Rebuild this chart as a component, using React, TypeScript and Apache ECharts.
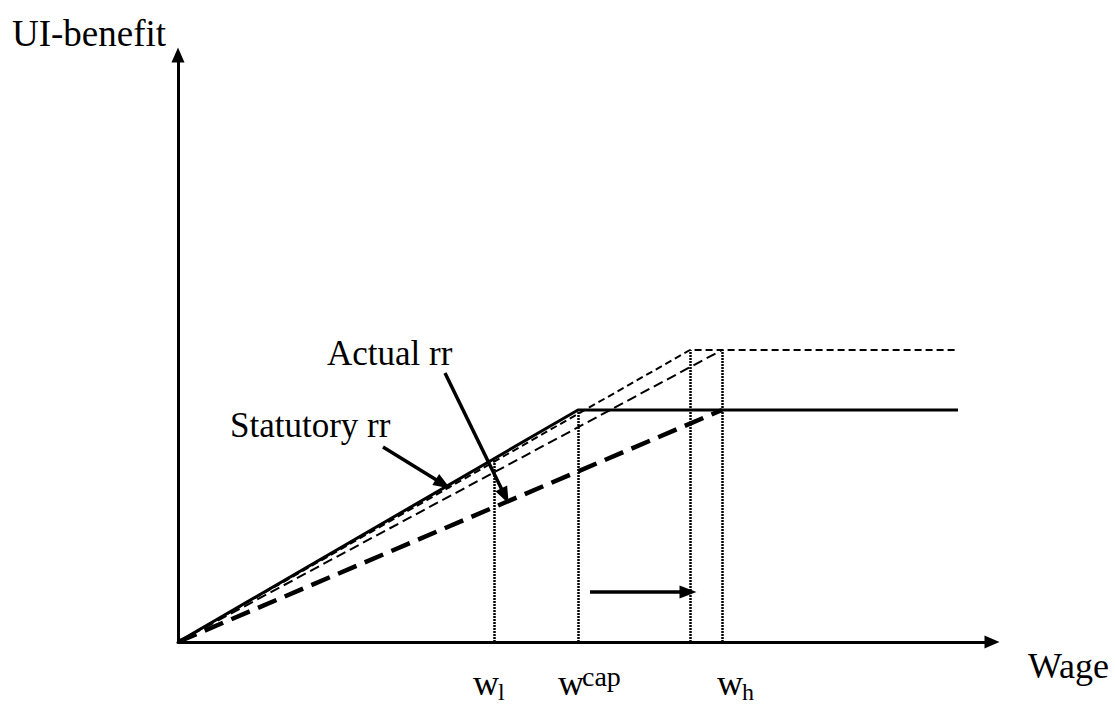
import React, { useEffect, useRef } from "react";
import * as echarts from "echarts";

// Conceptual diagram data (wage on x, UI-benefit on y)
const statutoryRR: [number, number][] = [[0, 0], [100, 58], [195, 58]];
const newStatutoryRR: [number, number][] = [[0, 0], [128, 73], [195, 73]];
const newActualRR: [number, number][] = [[0, 0], [136, 73]];
const actualRR: [number, number][] = [[0, 0], [136, 58]];

// vertical reference lines: [wage, height]
const guides: [number, number][] = [[79, 46], [100, 58], [128, 73], [136, 73]];

// annotation arrows: [from, to]
const arrows: [[number, number], [number, number]][] = [
  [[51.25, 48.75], [66.25, 39.5]],
  [[66.75, 67.25], [81.75, 36.5]],
  [[103, 12.5], [127.5, 12.5]],
];

const FONT = "Liberation Serif";

export default function App() {
  const ref = useRef<HTMLDivElement>(null);
  useEffect(() => {
    if (!ref.current) return;
    const chart = echarts.init(ref.current, undefined, { renderer: "svg" });
    const txt = (text: string, x: number, y: number, size = 36) => ({
      type: "text",
      x,
      y,
      silent: true,
      style: {
        text,
        fill: "#000",
        fontFamily: FONT,
        fontSize: size,
        verticalAlign: "middle",
        align: "left",
      },
    });
    chart.setOption({
      animation: false,
      backgroundColor: "#fff",
      textStyle: { fontFamily: FONT },
      grid: { left: 178, top: 55, width: 814, height: 587 },
      xAxis: {
        type: "value",
        min: 0,
        max: 203.5,
        axisLine: {
          show: true,
          onZero: false,
          symbol: ["none", "triangle"],
          symbolSize: [13, 15],
          lineStyle: { color: "#000", width: 3 },
        },
        axisTick: { show: false },
        axisLabel: { show: false },
        splitLine: { show: false },
      },
      yAxis: {
        type: "value",
        min: 0,
        max: 146.75,
        axisLine: {
          show: true,
          onZero: false,
          symbol: ["none", "triangle"],
          symbolSize: [13, 15],
          lineStyle: { color: "#000", width: 3 },
        },
        axisTick: { show: false },
        axisLabel: { show: false },
        splitLine: { show: false },
      },
      series: [
        {
          type: "line",
          data: statutoryRR,
          symbol: "none",
          lineStyle: { color: "#000", width: 3, type: "solid" },
          silent: true,
        },
        {
          type: "line",
          data: newStatutoryRR,
          symbol: "none",
          lineStyle: { color: "#000", width: 2, type: [7, 4] },
          silent: true,
        },
        {
          type: "line",
          data: newActualRR,
          symbol: "none",
          lineStyle: { color: "#000", width: 2, type: [10, 5] },
          silent: true,
        },
        {
          type: "line",
          data: actualRR,
          symbol: "none",
          lineStyle: { color: "#000", width: 4.5, type: [20, 9] },
          silent: true,
        },
        {
          type: "line",
          data: [],
          silent: true,
          markLine: {
            silent: true,
            symbol: ["none", "none"],
            label: { show: false },
            lineStyle: { color: "#000", width: 2.5, type: [2, 1] },
            data: guides.map(([x, h]) => [{ coord: [x, 0] }, { coord: [x, h] }]),
          },
        },
        {
          type: "line",
          data: [],
          silent: true,
          markLine: {
            silent: true,
            symbol: ["none", "triangle"],
            symbolSize: [13, 17],
            label: { show: false },
            lineStyle: { color: "#000", width: 3.5, type: "solid" },
            data: arrows.map(([a, b]) => [{ coord: a }, { coord: b }]),
          },
        },
      ],
      graphic: [
        txt("UI-benefit", 12, 33, 37),
        txt("Wage", 1028, 666, 36),
        txt("Actual rr", 327, 353, 35),
        txt("Statutory rr", 230, 425, 35),
        txt("w", 473, 683, 36),
        txt("l", 498, 692, 24),
        txt("w", 558, 683, 36),
        txt("cap", 582, 676, 28),
        txt("w", 717, 683, 36),
        txt("h", 742, 692, 24),
      ],
    });
    return () => chart.dispose();
  }, []);
  return (
    <div
      ref={ref}
      style={{ position: "absolute", left: 0, top: 0, width: 1115, height: 706 }}
    />
  );
}
